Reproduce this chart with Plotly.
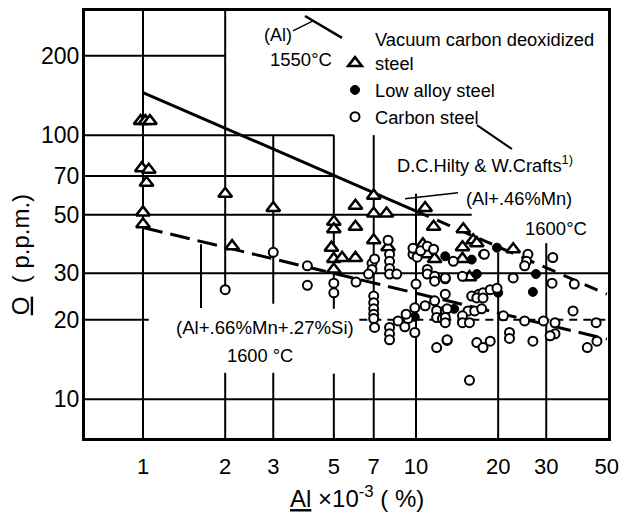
import plotly.graph_objects as go

# ---------------- data ----------------
# Vacuum carbon deoxidized steel (open triangles)
vcd_x = [0.98, 1.02, 1.06, 0.99, 1.05, 1.03, 1.0, 1.0,
         2.0, 2.12, 3.0,
         5.0, 5.0, 6.0, 6.0, 7.0, 7.0, 7.8, 7.0, 4.9, 5.0, 5.36, 6.0, 5.0,
         7.9, 10.6, 10.8, 11.6, 11.0, 11.7,
         14.9, 14.8, 16.2, 22.7, 14.8, 15.7, 16.7]
vcd_y = [113, 113, 113, 75, 74, 66, 51, 46,
         60, 38, 53,
         47, 44, 54, 45, 59, 50.5, 50.5, 40, 37.5, 34, 34.3, 34.3, 31,
         37.6, 38.6, 53, 45, 35.4, 34,
         44, 37.6, 40, 37, 34, 29, 39]

# Low alloy steel (filled circles)
las_x = [9.9, 12.8, 16.0, 16.7, 13.8, 20.0, 27.5, 26.8, 19.8, 17.6]
las_y = [20.5, 34.8, 33.8, 29.8, 22.0, 25.3, 29.8, 25.5, 37.5, 35.4]

# Carbon steel (open circles)
cs_x = [2.0, 3.0, 4.0, 4.0,
        5.0, 5.0, 6.03, 6.9, 6.9, 6.7, 7.05,
        8.0, 8.0, 8.0, 8.0, 8.5, 9.75, 9.75, 10.1, 7.9,
        10.0, 11.0, 11.0, 11.7, 11.7, 12.8, 13.7, 10.4, 11.0, 11.6,
        7.0, 7.0, 7.0, 7.0, 7.0, 7.05, 8.0, 8.0, 8.0, 8.6, 9.1, 9.35, 9.2, 9.9, 9.9,
        10.8, 11.7, 11.9, 11.9, 12.8, 12.5, 13.0, 11.9,
        17.8, 25.7, 25.4, 25.0, 31.7, 12.8, 14.8, 22.7, 31.5, 38.0,
        12.8, 16.0, 17.0, 17.6, 18.7, 19.8, 16.7, 17.6,
        13.0, 15.5, 16.4, 17.4, 12.8, 12.8, 14.8, 14.8, 15.7,
        20.9, 25.0, 29.3, 32.3, 32.3, 31.0, 37.6, 45.7, 46.0, 42.4,
        13.0, 16.7, 17.6, 18.7, 22.0, 22.0, 26.8, 15.7]
cs_y = [26, 36, 27, 32,
        27.5, 25.3, 27.8, 32.7, 31, 29.8, 34,
        35.4, 33.3, 31.3, 29.8, 29.8, 35.4, 37.3, 34.5, 40,
        27.3, 31, 29.8, 29.2, 28, 28.6, 33.3, 36.5, 38, 37,
        24.6, 23.2, 22, 21, 20.2, 18.7, 18.7, 17.7, 16.8, 19.8, 18.8, 20.2, 21, 17.9, 22.2,
        22.6, 23.6, 21.7, 20.4, 21.7, 20.2, 16.7, 15.7,
        35.4, 35.4, 33.3, 32, 34.4, 28.8, 29.2, 28.8, 27.5, 27.3,
        25, 24.6, 25, 25.3, 26, 26.3, 24.2, 24.2,
        22, 21.6, 21.6, 22, 20.4, 19.5, 20.7, 19.5, 19.5,
        20.7, 19.8, 19.8, 19.5, 17.7, 17.4, 21.6, 19.5, 16.6, 15.7,
        16.8, 16.4, 15.7, 16.6, 17.9, 17.0, 16.6, 11.8]

# Equilibrium lines
al1550_x = [1, 10]
al1550_y = [145, 51.6]
al1550_ext_x = [10, 50]
al1550_ext_y = [51.6, 25]
mnsi_x = [1, 50]
mnsi_y = [44.7, 16.9]
mn_flat_x = [6.2, 50]
mn_flat_y = [20, 20]

x_ticks = [1, 2, 3, 5, 7, 10, 20, 30, 50]
x_ticktext = ["1", "2", "3", "5", "7", "10", "20", "30", "50"]
y_ticks = [10, 20, 30, 50, 70, 100, 200]
y_ticktext = ["10", "20", "30", "50", "70", "100", "200"]

X_MIN, X_MAX = 0.6131, 50.5
Y_MIN, Y_MAX = 7.13, 295

# partial grid segments of the original drawing
grid_v = [(1, Y_MIN, Y_MAX), (2, 27, Y_MAX), (2, Y_MIN, 12.6), (3, 23, 100), (3, Y_MIN, 12.6),
          (5, 22, 100), (5, Y_MIN, 12.5), (7, 20, 100), (7, Y_MIN, 12.6),
          (10, Y_MIN, 60), (20, Y_MIN, 36), (30, Y_MIN, 39)]
grid_h = [(200, X_MIN, 2), (100, X_MIN, 5), (70, X_MIN, 5), (50, X_MIN, 16),
          (30, X_MIN, X_MAX), (20, X_MIN, 1.05), (10, X_MIN, X_MAX)]

FONT = "Liberation Sans, Arial, sans-serif"

fig = go.Figure()

fig.add_trace(go.Scatter(x=al1550_x, y=al1550_y, mode="lines",
                         line=dict(color="black", width=3), showlegend=False, hoverinfo="skip"))
fig.add_trace(go.Scatter(x=al1550_ext_x, y=al1550_ext_y, mode="lines",
                         line=dict(color="black", width=3, dash="14px,9px"), showlegend=False, hoverinfo="skip"))
fig.add_trace(go.Scatter(x=mnsi_x, y=mnsi_y, mode="lines",
                         line=dict(color="black", width=3, dash="20px,8px"), showlegend=False, hoverinfo="skip"))
fig.add_trace(go.Scatter(x=mn_flat_x, y=mn_flat_y, mode="lines",
                         line=dict(color="black", width=2, dash="8px,6px"), showlegend=False, hoverinfo="skip"))

fig.add_trace(go.Scatter(x=vcd_x, y=vcd_y, mode="markers",
                         name="Vacuum carbon deoxidized<br>steel",
                         marker=dict(symbol="triangle-up", size=12, color="white",
                                     line=dict(color="black", width=2.5))))
fig.add_trace(go.Scatter(x=las_x, y=las_y, mode="markers", name="Low alloy steel",
                         marker=dict(symbol="circle", size=9, color="black",
                                     line=dict(color="black", width=1))))
fig.add_trace(go.Scatter(x=cs_x, y=cs_y, mode="markers", name="Carbon steel",
                         marker=dict(symbol="circle", size=9, color="white",
                                     line=dict(color="black", width=2))))

shapes = []
for (xv, y0, y1) in grid_v:
    shapes.append(dict(type="line", xref="x", yref="y", x0=xv, x1=xv, y0=y0, y1=y1,
                       line=dict(color="black", width=2), layer="below"))
for (yv, x0, x1) in grid_h:
    shapes.append(dict(type="line", xref="x", yref="y", x0=x0, x1=x1, y0=yv, y1=yv,
                       line=dict(color="black", width=2), layer="below"))

# leader lines (pixel positions converted to paper)
def px(xp):
    return (xp - 85) / 523.0

def py(yp):
    return (438 - yp) / 430.0

leaders = [((293, 28), (313, 18), 1.5), ((305, 13), (342, 35), 2.5),
           ((477, 123), (512, 147), 2), ((405, 197), (458, 191), 1.5),
           ((201, 243), (201, 307), 2)]
for (a, b, w) in leaders:
    shapes.append(dict(type="line", xref="paper", yref="paper",
                       x0=px(a[0]), y0=py(a[1]), x1=px(b[0]), y1=py(b[1]),
                       line=dict(color="black", width=w)))

labels = [("(Al)", 278, 32, 18), ("1550°C", 301, 57, 18.5),
          ("D.C.Hilty &amp; W.Crafts<sup>1)</sup>", 485, 162, 18.3),
          ("(Al+.46%Mn)", 519, 197, 18.3), ("1600°C", 556, 227, 18.5),
          ("(Al+.66%Mn+.27%Si)", 265, 327, 18.6), ("1600 °C", 260, 355, 18.3)]
annotations = []
for (t, cx, cy, fs) in labels:
    annotations.append(dict(text=t, x=px(cx), y=py(cy), xref="paper", yref="paper",
                            showarrow=False, xanchor="center", yanchor="middle",
                            font=dict(size=fs, color="black", family=FONT)))

annotations.append(dict(text="<u>O</u>  ( p.p.m.)", x=px(20), y=py(254), xref="paper", yref="paper",
                        showarrow=False, textangle=-90, xanchor="center", yanchor="middle",
                        font=dict(size=24, color="black", family=FONT)))
annotations.append(dict(text="<u>Al</u> ×10<sup>-3</sup> ( %)", x=px(357), y=py(497), xref="paper", yref="paper",
                        showarrow=False, xanchor="center", yanchor="middle",
                        font=dict(size=24, color="black", family=FONT)))

fig.update_layout(
    width=639, height=516,
    margin=dict(l=85, r=31, t=8, b=78),
    paper_bgcolor="white", plot_bgcolor="white",
    font=dict(family=FONT, color="black", size=18),
    showlegend=True,
    legend=dict(x=px(335), y=py(18), xanchor="left", yanchor="top",
                bgcolor="rgba(0,0,0,0)", font=dict(size=18.3, family=FONT),
                valign="bottom", itemsizing="trace"),
    shapes=shapes, annotations=annotations,
)
fig.update_xaxes(type="log", range=[-0.2125, 1.7033], tickvals=x_ticks, ticktext=x_ticktext,
                 showgrid=False, zeroline=False, showline=True, mirror=True, linewidth=3,
                 linecolor="black", ticks="", tickfont=dict(size=22, family=FONT),
                 ticklabelstandoff=7)
fig.update_yaxes(type="log", range=[0.8534, 2.47], tickvals=y_ticks, ticktext=y_ticktext,
                 showgrid=False, zeroline=False, showline=True, mirror=True, linewidth=3,
                 linecolor="black", ticks="", tickfont=dict(size=23, family=FONT),
                 ticklabelstandoff=-2)

fig.write_html("out.html")
